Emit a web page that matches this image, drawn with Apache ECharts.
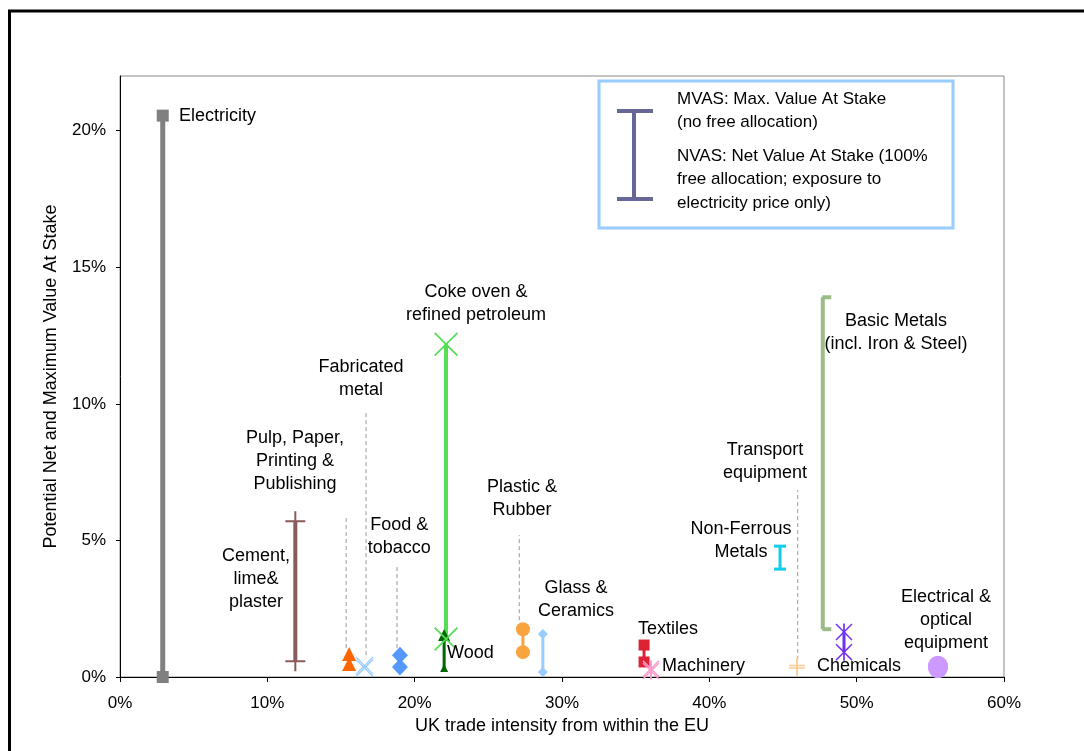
<!DOCTYPE html>
<html><head><meta charset="utf-8">
<script src="https://cdn.jsdelivr.net/npm/echarts@6/dist/echarts.min.js"></script>
<style>html,body{margin:0;padding:0;background:#fff}#c{width:1084px;height:751px}</style>
</head><body><div id="c"></div>
<script>
// ---------- DATA ----------
const sectors = ['Electricity','Cement, lime & plaster','Pulp, Paper, Printing & Publishing','Fabricated metal','Food & tobacco','Wood','Coke oven & refined petroleum','Plastic & Rubber','Glass & Ceramics','Textiles','Machinery','Non-Ferrous Metals','Transport equipment','Basic Metals','Chemicals','Electrical & optical equipment'];
const tradeIntensity = [2.9, 11.9, 15.55, 16.6, 19.0, 22.0, 22.13, 27.35, 28.7, 35.57, 36.04, 44.8, 45.95, 47.7, 49.14, 55.52];
const nvas = [0, 0.58, 0.48, 0.33, 0.37, 0.33, 1.39, 0.91, 0.18, 0.55, 0.22, 3.95, 0.33, 1.75, 0.91, 0.37];
const mvas = [20.55, 5.7, 0.84, 0.42, 0.80, 1.54, 12.18, 1.75, 1.57, 1.17, 0.30, 4.79, 0.42, 13.9, 1.65, 0.37];
const xTicks = [0, 10, 20, 30, 40, 50, 60];
const yTicks = [0, 5, 10, 15, 20];
// label texts (anchored in data coordinates)
const labelTexts = ['Electricity','Cement,\nlime&\nplaster','Pulp, Paper,\nPrinting &\nPublishing','Fabricated\nmetal','Food &\ntobacco','Wood','Coke oven &\nrefined petroleum','Plastic &\nRubber','Glass &\nCeramics','Textiles','Machinery','Non-Ferrous\nMetals','Transport\nequipment','Basic Metals\n(incl. Iron & Steel)','Chemicals','Electrical &\noptical\nequipment'];
const labelX = [4.0, 9.23, 11.88, 16.36, 18.95, 22.2, 24.16, 27.29, 30.95, 35.16, 36.79, 42.15, 43.78, 52.67, 47.31, 56.06];
const labelY = [20.55, 3.58, 7.90, 10.91, 5.14, 0.88, 13.66, 6.54, 2.82, 1.755, 0.40, 4.99, 7.88, 12.6, 0.40, 2.10];
const labelAlign = ['left','center','center','center','center','left','center','center','center','left','left','center','center','center','left','center'];
// dashed leader lines
const leaderX = [15.35, 16.7, 18.8, 27.1, 46.0];
const leaderTop = [5.85, 9.76, 4.06, 5.19, 6.84];
const leaderBottom = [1.06, 0.8, 1.06, 2.08, 0.62];

// ---------- STYLE ----------
const FONT = '"Liberation Sans", Arial, sans-serif';
const XS = 'path://M0,0.5L0.5,0L5,4.5L9.5,0L10,0.5L5.5,5L10,9.5L9.5,10L5,5.5L0.5,10L0,9.5L4.5,5Z';
const AST = 'path://M0,0.6L0.6,0L5,4.4L9.4,0L10,0.6L5.6,5L10,9.4L9.4,10L5,5.6L0.6,10L0,9.4L4.4,5Z M4.5,0H5.5V10H4.5Z';
const PLUS = 'path://M0,4.5H10V5.5H0Z M4.5,0H5.5V10H4.5Z';
const styles = [
  {color:'#808080', w:5, sym:'rect', size:12},
  {color:'#8b5a5a', w:4, sym:PLUS, size:20},
  {color:'#ff6600', w:3, sym:'triangle', size:14},
  {color:'#99ccff', w:2, sym:XS, size:18},
  {color:'#5599ff', w:3, sym:'diamond', size:[16,17]},
  {color:'#006600', w:3, sym:'triangle', size:12, lowSym:'triangle', lowSize:8},
  {color:'#55dd55', w:4, sym:XS, size:24},
  {color:'#f9a43f', w:3, sym:'circle', size:14},
  {color:'#99ccff', w:3, sym:'diamond', size:10},
  {color:'#dd2233', w:3, sym:'rect', size:11},
  {color:'#ff99cc', w:2, sym:AST, size:17},
  {color:'#11ccee', w:3, sym:'rect', size:[12,3]},
  {color:'#ffcc99', w:2, sym:PLUS, size:16},
  {color:'#9bbb88', w:4, sym:'rect', size:[9,4], offset:[4,0]},
  {color:'#7030f0', w:3, sym:AST, size:17},
  {color:'#cc99ff', w:3, sym:'circle', size:[20,22]}
];

const series = [];
leaderX.forEach((x, i) => {
  series.push({type:'line', silent:true, symbol:'none', z:1,
    lineStyle:{color:'#999', width:1, type:[4,3]},
    data:[[x, leaderBottom[i]], [x, leaderTop[i]]]});
});
sectors.forEach((name, i) => {
  const s = styles[i];
  series.push({
    name, type:'line', silent:true, z:3,
    lineStyle:{color:s.color, width:s.w},
    itemStyle:{color:s.color, opacity:1},
    showSymbol:true,
    data:[
      {value:[tradeIntensity[i], nvas[i]], symbol:s.lowSym || s.sym, symbolSize:s.lowSize || s.size, symbolOffset:s.offset || [0,0]},
      {value:[tradeIntensity[i], mvas[i]], symbol:s.sym, symbolSize:s.size, symbolOffset:s.offset || [0,0]}
    ]
  });
});

const chart = echarts.init(document.getElementById('c'), null, {renderer:'canvas'});
chart.setOption({
  animation:false,
  backgroundColor:'#fff',
  grid:{left:120, right:80, top:76, bottom:74, show:true, borderColor:'#888', borderWidth:1},
  xAxis:{type:'value', min:0, max:60, interval:10,
    name:'UK trade intensity from within the EU', nameLocation:'middle', nameGap:29,
    nameTextStyle:{fontFamily:FONT, fontSize:18, color:'#000'},
    axisLine:{lineStyle:{color:'#000', width:1}},
    axisTick:{length:5, lineStyle:{color:'#000'}},
    axisLabel:{formatter:'{value}%', fontFamily:FONT, fontSize:17, color:'#000', margin:18,
      customValues:xTicks},
    splitLine:{show:false}},
  yAxis:{type:'value', min:0, max:22,
    name:'Potential Net and Maximum Value At Stake', nameLocation:'middle', nameGap:60,
    nameTextStyle:{fontFamily:FONT, fontSize:18, color:'#000'},
    axisLine:{show:true, lineStyle:{color:'#000', width:1}},
    axisTick:{show:true, length:4, lineStyle:{color:'#000'}, customValues:yTicks},
    axisLabel:{formatter:'{value}%', fontFamily:FONT, fontSize:17, color:'#000', margin:14,
      customValues:yTicks},
    splitLine:{show:false}},
  series
});

const g = [];
g.push({type:'rect', silent:true, shape:{x:9.5, y:11, width:1100, height:800}, style:{fill:null, stroke:'#000', lineWidth:3}, z:100});
// legend box
g.push({type:'rect', shape:{x:599, y:81, width:354, height:147}, style:{fill:'#fff', stroke:'#99ccff', lineWidth:3}, z:50});
g.push({type:'line', shape:{x1:634, y1:111, x2:634, y2:199}, style:{stroke:'#666699', lineWidth:4}, z:51});
g.push({type:'line', shape:{x1:617, y1:111, x2:653, y2:111}, style:{stroke:'#666699', lineWidth:4}, z:51});
g.push({type:'line', shape:{x1:617, y1:199, x2:653, y2:199}, style:{stroke:'#666699', lineWidth:4}, z:51});
const legendLines = ['MVAS: Max. Value At Stake','(no free allocation)','NVAS: Net Value At Stake (100%','free allocation; exposure to','electricity price only)'];
const legendY = [99, 122, 156, 179, 203];
legendLines.forEach((t, i) => {
  g.push({type:'text', z:52, style:{text:t, x:677, y:legendY[i], textAlign:'left', textVerticalAlign:'middle', font:'17px ' + FONT, fill:'#000'}});
});
labelTexts.forEach((t, i) => {
  const p = chart.convertToPixel({gridIndex:0}, [labelX[i], labelY[i]]);
  g.push({type:'text', z:60, style:{text:t, x:p[0], y:p[1], textAlign:labelAlign[i], textVerticalAlign:'middle', font:'18px ' + FONT, lineHeight:23, fill:'#000'}});
});
chart.setOption({graphic:g});
</script>
</body></html>
